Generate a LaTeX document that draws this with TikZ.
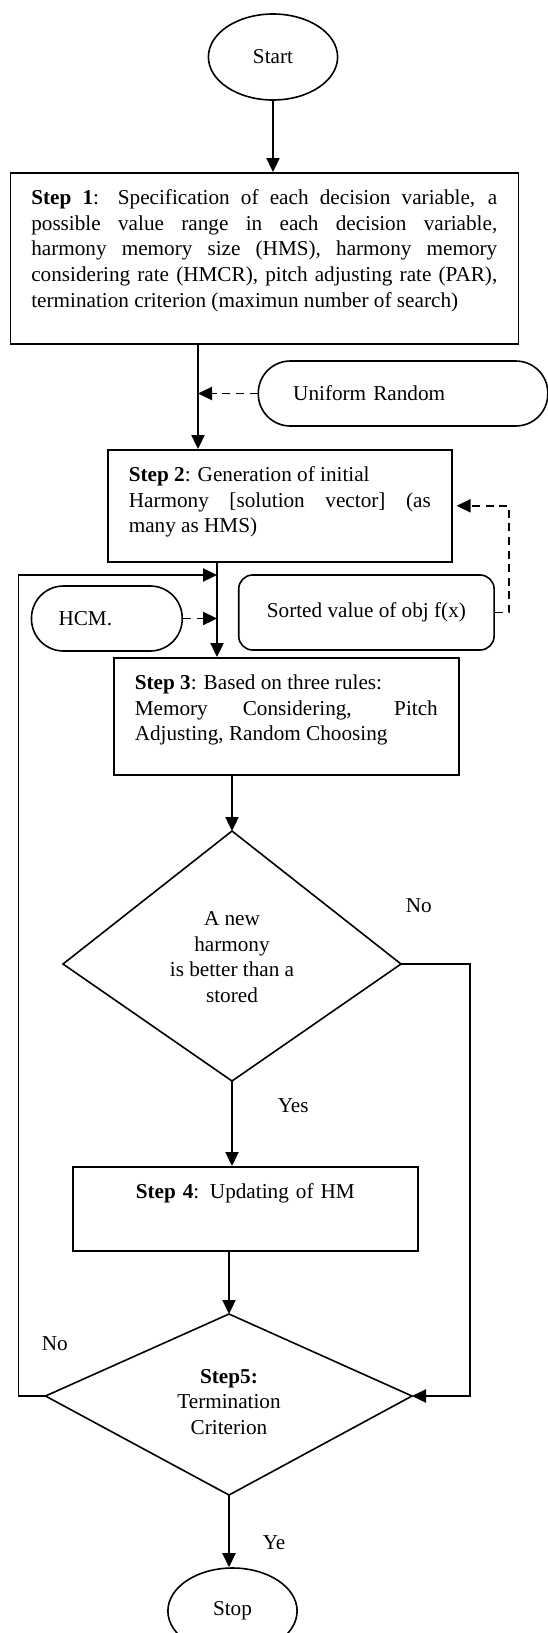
\documentclass[tikz,border=0pt]{standalone}
\usepackage{fontspec}
\setmainfont{Liberation Serif}
\usepackage{tikz}
\usetikzlibrary{shapes.geometric, arrows.meta, positioning, calc}

\begin{document}
\begin{tikzpicture}[x=0.5pt,y=-0.5pt, line width=0.8pt,
  font=\fontsize{10.6}{12.9}\selectfont,
  flow/.style={-{Triangle[length=7pt,width=6.6pt]}},
  feed/.style={flow, dash pattern=on 4pt off 2.8pt},
  terminal/.style={draw, ellipse, minimum width=64.6pt, minimum height=43pt, inner sep=0pt},
  stepbox/.style={draw, rectangle, anchor=north west, align=justify,
    inner xsep=10.5pt, inner ysep=8pt, text height=7.75pt},
  inputbox/.style={draw, rectangle, rounded corners=16pt, minimum height=32.5pt,
    align=left, inner ysep=0pt, anchor=west},
  decision/.style={align=center, inner sep=0pt},
  lbl/.style={anchor=base west, inner sep=0pt}]
\useasboundingbox (0,0) rectangle (547,1633);

% main column
\node[terminal] (start) at (273,57) {Start};
\node[stepbox, text width=233pt, text depth=61.75pt] (step1) at (9.5,172)
  {\textbf{Step 1}: Specification of each decision variable, a\linebreak
   possible value range in each decision variable,\linebreak
   harmony memory size (HMS), harmony memory\linebreak
   considering rate (HMCR), pitch adjusting rate (PAR),\linebreak
   termination criterion (maximun number of search)};
\node[inputbox, text width=109.85pt, inner xsep=17.45pt] (urand) at (257.5,393.5) {Uniform Random};
\node[stepbox, text width=151pt, text depth=32.25pt] (step2) at (107,449)
  {\textbf{Step 2}: Generation of initial\\
   Harmony [solution vector] (as\linebreak
   many as HMS)};
\node[inputbox, text width=48.35pt, inner xsep=13.5pt] (hcm) at (30.7,618.5) {HCM.};
\node[draw, rounded corners=7pt, minimum width=127.7pt, minimum height=37.5pt] (sorted) at (366.4,612.5)
  {Sorted value of obj f(x)};
\node[stepbox, text width=151.5pt, text depth=34.75pt] (step3) at (113,657)
  {\textbf{Step 3}: Based on three rules:\\
   Memory Considering, Pitch\linebreak
   Adjusting, Random Choosing};
\node[decision] (dec1) at (232,957) {A new\\harmony\\is better than a\\stored};
\node[stepbox, align=center, text width=151.5pt, text depth=18.25pt] (step4) at (72,1166)
  {\textbf{Step 4}: Updating of HM};
\node[decision] (dec2) at (229,1402) {\textbf{Step5:}\\Termination\\Criterion};
\node[terminal] (stop) at (232.5,1611) {Stop};

% diamond corners
\coordinate (dec1n) at (232,831);
\coordinate (dec1e) at (401,964);
\coordinate (dec1s) at (232,1081);
\coordinate (dec1w) at (63,964);
\coordinate (dec2n) at (229,1314);
\coordinate (dec2e) at (412,1396);
\coordinate (dec2s) at (229,1495);
\coordinate (dec2w) at (45.5,1396);
\draw (dec1n) -- (dec1e) -- (dec1s) -- (dec1w) -- cycle;
\draw (dec2n) -- (dec2e) -- (dec2s) -- (dec2w) -- cycle;

% branch labels
\node[lbl] (no1) at (405,912) {No};
\node[lbl] (yes1) at (277,1112) {Yes};
\node[lbl] (no2) at (41,1350) {No};
\node[lbl] (yes2) at (262,1549) {Ye};

% trunk x positions and loop corners
\coordinate (trunk1) at (198,0);
\coordinate (trunk2) at (217,0);
\coordinate (loopL) at (18.5,575);
\coordinate (loopR) at (470,0);
\coordinate (sortR) at (509,0);

\draw[flow] (start) -- (start |- step1.north);
\draw[flow] (trunk1 |- step1.south) -- (trunk1 |- step2.north);
\draw[feed] (urand.west) -- (trunk1 |- urand.west);
\draw[flow] (trunk2 |- step2.south) -- (trunk2 |- step3.north);
\draw[feed] (hcm.east) -- (trunk2 |- hcm.east);
\draw[feed, shorten >=2pt] (sorted.east) -- (sorted.east -| sortR) |- (step2.east);
\draw[flow] (step3.south -| dec1n) -- (dec1n);
\draw[flow] (dec1s) -- (dec1s |- step4.north);
\draw[flow] (step4.south -| dec2n) -- (dec2n);
\draw[flow] (dec1e) -- (dec1e -| loopR) |- (dec2e);
\draw[flow] (dec2w) -| (loopL) -- (trunk2 |- loopL);
\draw[flow] (dec2s) -- (dec2s |- stop.north);
\end{tikzpicture}
\end{document}
